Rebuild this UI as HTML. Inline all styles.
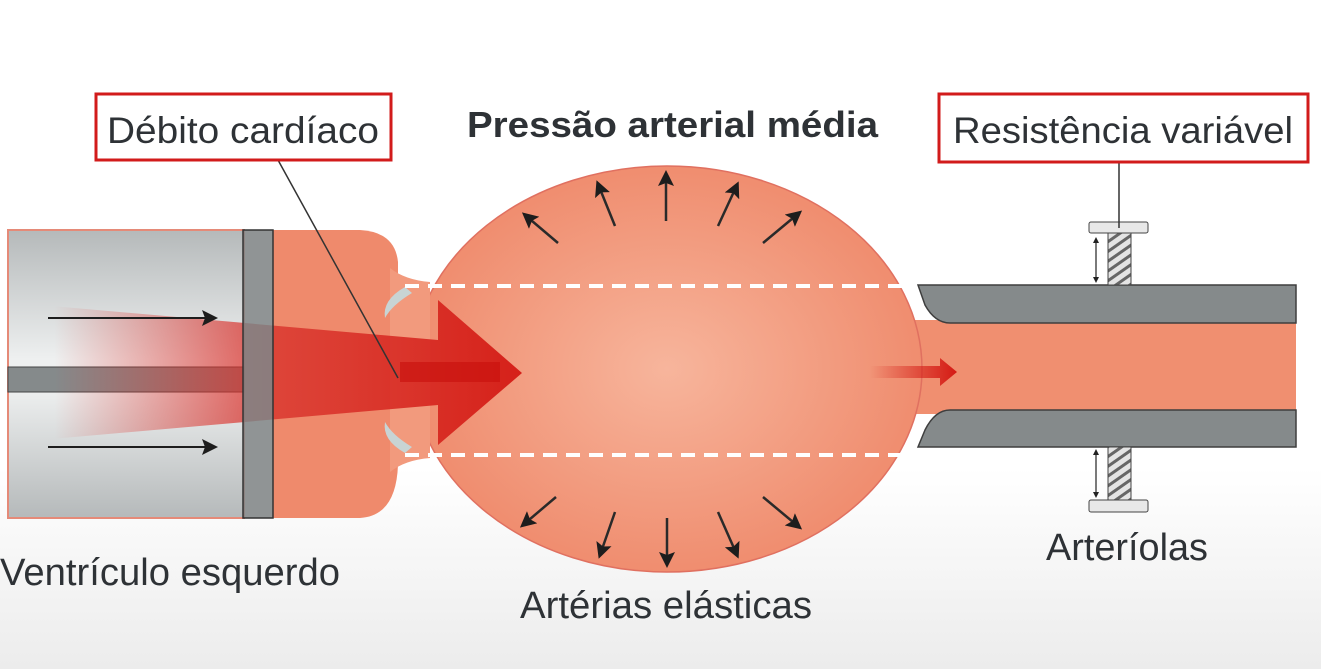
<!DOCTYPE html>
<html><head><meta charset="utf-8"><style>
html,body{margin:0;padding:0;width:1321px;height:669px;overflow:hidden;}
body{background:linear-gradient(#fff 0%,#fff 70%,#ececec 100%);}
svg{display:block}
text{font-family:"Liberation Sans Narrow","Liberation Sans",sans-serif;fill:#2e3236;}
</style></head><body>
<svg width="1321" height="669" viewBox="0 0 1321 669" xmlns="http://www.w3.org/2000/svg">
<defs>
<linearGradient id="vg" x1="0" y1="0" x2="0" y2="1">
<stop offset="0" stop-color="#b5b9ba"/><stop offset="0.45" stop-color="#eef0f0"/><stop offset="0.55" stop-color="#eef0f0"/><stop offset="1" stop-color="#b5b9ba"/></linearGradient>
<radialGradient id="bg" cx="0.5" cy="0.5" r="0.6"><stop offset="0" stop-color="#f7b59c"/><stop offset="1" stop-color="#ee8566"/></radialGradient>
<linearGradient id="ag" x1="0" y1="0" x2="1" y2="0">
<stop offset="0.03" stop-color="#e0302a" stop-opacity="0"/><stop offset="0.45" stop-color="#d8302a" stop-opacity="0.75"/><stop offset="1" stop-color="#d41a14" stop-opacity="0.95"/></linearGradient>
<linearGradient id="sg" x1="0" y1="0" x2="1" y2="0"><stop offset="0" stop-color="#d41a14" stop-opacity="0"/><stop offset="1" stop-color="#d41a14"/></linearGradient>
<marker id="ah2" markerWidth="16" markerHeight="16" refX="12" refY="8" orient="auto" markerUnits="userSpaceOnUse"><path d="M0,0 L16,8 L0,16 L3,8Z" fill="#1d1d1d"/></marker>
<marker id="sm" markerWidth="6" markerHeight="6" refX="3" refY="3" orient="auto-start-reverse" markerUnits="userSpaceOnUse"><path d="M0,0 L6,3 L0,6Z" fill="#222"/></marker>
<pattern id="hatch" width="8" height="8" patternUnits="userSpaceOnUse" patternTransform="rotate(-35)"><rect width="8" height="8" fill="#e4e4e4"/><rect width="8" height="3" fill="#666"/></pattern>
</defs>
<!-- ventricle -->
<rect x="8" y="230" width="236" height="288" fill="url(#vg)" stroke="#e58a78" stroke-width="2"/>
<rect x="8" y="367" width="236" height="25" fill="#858a8b" stroke="#444" stroke-width="1"/>
<path d="M273,230 L360,230 Q395,232 398,262 L398,280 L398,465 Q396,516 360,518 L273,518Z" fill="#ef8a6c"/>
<!-- tube inner (under bulb edge) -->
<rect x="880" y="320" width="416" height="94" fill="#f08f70"/>
<!-- bulb -->
<ellipse cx="667" cy="369" rx="255" ry="203" fill="url(#bg)" stroke="#e07060" stroke-width="1.5"/>
<path d="M390,268 Q405,280 430,282 L430,458 Q405,460 390,472Z" fill="#f29a7d"/>
<path d="M405,287 Q382,300 385,318 Q392,305 412,293Z" fill="#c8d4d4"/>
<path d="M405,453 Q382,440 385,422 Q392,435 412,447Z" fill="#c8d4d4"/>
<!-- tube walls -->
<path d="M918,285 L1296,285 L1296,323 L950,323 Q935,323 925,305 Z" fill="#858a8b" stroke="#3e3e3e" stroke-width="1.5"/>
<path d="M918,447 L1296,447 L1296,410 L950,410 Q935,410 925,430 Z" fill="#858a8b" stroke="#3e3e3e" stroke-width="1.5"/>
<line x1="405" y1="286" x2="915" y2="286" stroke="#fff" stroke-width="4" stroke-dasharray="14,9"/>
<line x1="405" y1="455" x2="915" y2="455" stroke="#fff" stroke-width="4" stroke-dasharray="14,9"/>
<!-- screws -->
<rect x="1108" y="233" width="23" height="52" fill="url(#hatch)" stroke="#444"/>
<rect x="1089" y="222" width="59" height="11" rx="2" fill="#e8e8e8" stroke="#444"/>
<rect x="1108" y="447" width="23" height="53" fill="url(#hatch)" stroke="#444"/>
<rect x="1089" y="500" width="59" height="12" rx="2" fill="#e8e8e8" stroke="#444"/>
<line x1="1096" y1="240" x2="1096" y2="280" stroke="#222" stroke-width="1.2" marker-start="url(#sm)" marker-end="url(#sm)"/>
<line x1="1096" y1="452" x2="1096" y2="495" stroke="#222" stroke-width="1.2" marker-start="url(#sm)" marker-end="url(#sm)"/>
<!-- big arrow -->
<path d="M40,305 L438,340 L438,300 L522,373 L438,445 L438,405 L40,440Z" fill="url(#ag)"/>
<rect x="243" y="230" width="30" height="288" fill="#7d8182" fill-opacity="0.85" stroke="#333" stroke-width="1.5"/>
<path d="M400,362 L500,362 L500,382 L400,382Z" fill="#c80f0c" opacity="0.6"/>
<line x1="48" y1="318" x2="214" y2="318" stroke="#1d1d1d" stroke-width="2" marker-end="url(#ah2)"/>
<line x1="48" y1="447" x2="214" y2="447" stroke="#1d1d1d" stroke-width="2" marker-end="url(#ah2)"/>
<!-- small red arrow -->
<path d="M870,366 L940,366 L940,358 L957,372 L940,386 L940,378 L870,378Z" fill="url(#sg)"/>
<!-- radial arrows -->
<g stroke="#2a2a2a" stroke-width="2.5" marker-end="url(#ah2)">
<line x1="558" y1="243" x2="525" y2="215"/><line x1="615" y1="226" x2="598" y2="184"/><line x1="666" y1="221" x2="666" y2="174"/><line x1="718" y1="226" x2="737" y2="185"/><line x1="763" y1="243" x2="799" y2="213"/>
<line x1="556" y1="497" x2="523" y2="525"/><line x1="615" y1="512" x2="600" y2="555"/><line x1="667" y1="518" x2="667" y2="564"/><line x1="718" y1="512" x2="737" y2="555"/><line x1="763" y1="497" x2="799" y2="527"/>
</g>
<!-- leader lines -->
<line x1="278" y1="160" x2="398" y2="378" stroke="#333" stroke-width="1.5"/>
<line x1="1119" y1="162" x2="1119" y2="228" stroke="#333" stroke-width="1.5"/>
<!-- label boxes -->
<rect x="96" y="94" width="295" height="66" fill="#fff" stroke="#d21b1b" stroke-width="3"/>
<rect x="939" y="94" width="369" height="68" fill="#fff" stroke="#d21b1b" stroke-width="3"/>
<text x="107" y="143" font-size="37" textLength="272" lengthAdjust="spacingAndGlyphs">Débito cardíaco</text>
<text x="953" y="143" font-size="37" textLength="340" lengthAdjust="spacingAndGlyphs">Resistência variável</text>
<text x="467" y="137" font-size="36" font-weight="bold" style="font-family:'Liberation Sans',sans-serif" textLength="411" lengthAdjust="spacingAndGlyphs">Pressão arterial média</text>
<text x="0" y="585" font-size="38" textLength="340" lengthAdjust="spacingAndGlyphs">Ventrículo esquerdo</text>
<text x="520" y="618" font-size="38" textLength="292" lengthAdjust="spacingAndGlyphs">Artérias elásticas</text>
<text x="1046" y="560" font-size="38" textLength="162" lengthAdjust="spacingAndGlyphs">Arteríolas</text>
</svg>
</body></html>
